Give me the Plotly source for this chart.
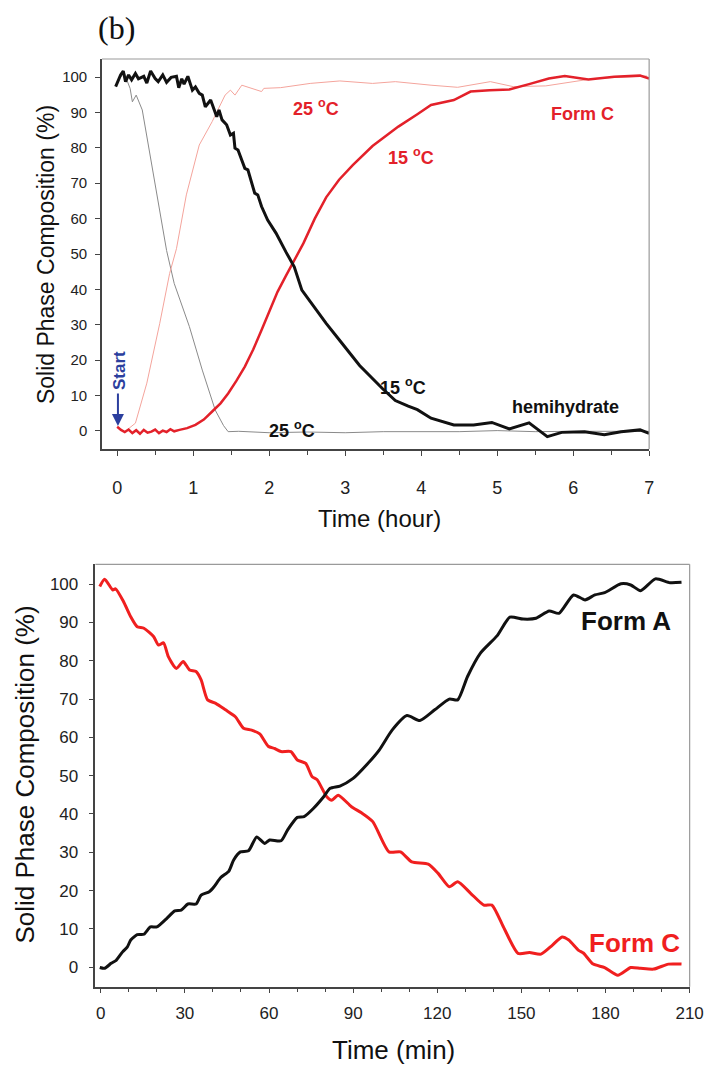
import plotly.graph_objects as go

W, H = 721, 1067

# ---------------- Top panel data (Time in hours, composition %) ----------------
hemi15_t = [-0.02, 0.045, 0.08, 0.11, 0.15, 0.19, 0.24, 0.28, 0.35, 0.39, 0.44, 0.50, 0.54, 0.60, 0.65, 0.71,
            0.78, 0.81, 0.85, 0.88, 0.93, 0.99, 1.03, 1.08, 1.12, 1.16, 1.23, 1.27, 1.31, 1.34, 1.38, 1.44,
            1.49, 1.53, 1.55, 1.59, 1.64, 1.68, 1.72, 1.77, 1.81, 1.85, 1.90, 1.98, 2.09, 2.22, 2.33, 2.43,
            2.60, 2.75, 2.95, 3.19, 3.49, 3.66, 3.83, 3.95, 4.13, 4.43, 4.69, 4.93, 5.16, 5.42, 5.66, 5.85,
            6.15, 6.41, 6.63, 6.88, 7.0]
hemi15_v = [97.3, 100.6, 101.7, 98.7, 100.6, 99.2, 101.0, 99.5, 100.2, 98.3, 101.7, 99.6, 98.7, 100.6, 98.5, 99.9,
            100.2, 97.0, 99.5, 98.0, 100.2, 96.3, 97.2, 95.4, 94.9, 91.6, 93.5, 91.1, 88.8, 90.7, 87.9, 86.5,
            83.6, 84.1, 79.9, 79.4, 76.6, 74.2, 73.8, 70.0, 67.2, 66.7, 63.4, 59.6, 55.9, 50.6, 46.4, 39.8,
            34.8, 30.4, 25.0, 18.5, 12.0, 8.6, 7.0, 6.0, 3.6, 1.7, 1.7, 2.4, 0.6, 2.3, -1.6, -0.4,
            -0.2, -1.1, -0.2, 0.3, -0.7]

formC15_t = [0.0, 0.05, 0.10, 0.15, 0.20, 0.25, 0.30, 0.35, 0.40, 0.45, 0.50, 0.55, 0.60, 0.65, 0.70, 0.75,
             0.82, 0.92, 1.03, 1.14, 1.25, 1.36, 1.46, 1.57, 1.68, 1.79, 1.90, 2.00, 2.11, 2.22, 2.33, 2.45,
             2.60, 2.75, 2.92, 3.10, 3.36, 3.70, 3.95, 4.13, 4.43, 4.65, 4.90, 5.16, 5.42, 5.68, 5.89, 6.20,
             6.54, 6.88, 7.0]
formC15_v = [1.2, 0.3, -0.3, 0.4, -0.6, 0.2, -0.8, 0.3, -0.5, -0.2, 0.4, -0.6, 0.1, -0.3, 0.5, -0.1,
             0.3, 0.8, 1.7, 3.2, 5.5, 7.8, 10.6, 14.2, 18.2, 23.0, 28.5, 33.8, 39.3, 43.8, 48.3, 53.0,
             60.0, 66.0, 71.0, 75.1, 80.5, 86.0, 89.5, 92.1, 93.5, 95.9, 96.3, 96.5, 98.0, 99.6, 100.3, 99.3,
             100.1, 100.4, 99.6]

hemi25_t = [0.05, 0.09, 0.13, 0.17, 0.20, 0.25, 0.33, 0.43, 0.54, 0.65, 0.75, 0.85, 0.95, 1.12, 1.29, 1.40,
            1.46, 1.6, 2.0, 2.5, 3.0, 3.5, 4.0, 4.5, 5.0, 5.5, 6.0, 6.5, 7.0]
hemi25_v = [100.0, 101.5, 99.0, 96.8, 93.0, 94.9, 90.7, 78.0, 63.8, 51.0, 41.7, 35.5, 29.5, 17.2, 5.9, 1.5,
            -0.2, -0.1, -0.5, -0.3, -0.5, -0.2, -0.3, -0.2, 0.1, -0.2, -0.1, 0.0, -0.1]

formC25_t = [0.13, 0.24, 0.39, 0.56, 0.69, 0.78, 0.91, 1.08, 1.25, 1.42, 1.49, 1.55, 1.64, 1.77, 1.90, 1.93,
             2.15, 2.54, 2.93, 3.36, 3.66, 4.13, 4.48, 4.91, 5.21, 5.64, 6.28, 6.97]
formC25_v = [0.3, 2.2, 13.5, 30.4, 44.5, 51.5, 66.7, 80.8, 87.4, 94.9, 96.3, 94.9, 97.7, 96.8, 95.9, 96.8,
             97.0, 98.2, 98.9, 98.2, 98.7, 97.7, 97.1, 98.7, 97.3, 97.5, 99.6, 100.3]

top_xticks = [0, 1, 2, 3, 4, 5, 6, 7]
top_yticks = [0, 10, 20, 30, 40, 50, 60, 70, 80, 90, 100]

# ---------------- Bottom panel data (Time in min, composition %) ----------------
formA_t = [-0.35, 1.4, 3.7, 5.5, 7.8, 9.5, 10.7, 13.0, 15.4, 17.7, 20.0, 23.5, 26.4, 28.7, 31.1, 34.0,
           35.8, 38.7, 40.4, 42.8, 45.7, 47.4, 49.8, 52.7, 55.6, 58.5, 60.2, 64.3, 66.6, 70.1, 72.5, 75.9,
           79.5, 81.8, 85.3, 90.0, 95.0, 99.3, 103.9, 109.2, 113.8, 119.1, 124.3, 127.3, 130.8, 135.4, 141.3,
           145.9, 150.6, 155.2, 159.9, 163.4, 168.6, 172.7, 176.2, 179.7, 185.5, 189.0, 192.5, 197.8, 203.0, 207.1]
formA_v = [-0.1, -0.3, 1.0, 1.8, 4.0, 5.3, 7.1, 8.5, 8.6, 10.5, 10.5, 12.7, 14.7, 14.9, 16.5, 16.5,
           18.8, 19.7, 21.0, 23.4, 25.1, 28.0, 30.1, 30.4, 34.0, 32.3, 33.2, 33.0, 35.8, 39.1, 39.3, 41.5,
           44.5, 46.7, 47.3, 49.3, 53.0, 56.7, 61.9, 65.7, 64.4, 67.2, 70.0, 69.8, 75.9, 82.0, 86.5,
           91.4, 90.9, 91.1, 93.0, 92.4, 97.2, 95.9, 97.2, 97.8, 100.1, 99.8, 98.3, 101.4, 100.4, 100.5]

formC_t = [-0.35, 1.4, 4.3, 5.3, 8.1, 10.7, 13.0, 15.4, 18.9, 20.6, 22.4, 24.1, 27.0, 29.4, 31.7, 34.0,
           35.8, 38.1, 41.0, 44.5, 48.0, 50.9, 53.8, 56.7, 59.7, 62.0, 64.3, 67.8, 70.1, 73.1, 75.4, 77.1,
           80.6, 82.4, 84.7, 89.4, 93.0, 97.0, 102.8, 106.9, 110.9, 116.8, 120.3, 124.3, 127.3, 131.9, 136.6,
           139.5, 143.6, 148.8, 152.9, 157.0, 161.0, 164.5, 166.9, 170.4, 172.1, 175.6, 179.7, 184.4, 189.0,
           192.5, 197.2, 202.4, 207.1]
formC_v = [99.4, 101.3, 98.5, 98.8, 95.5, 91.5, 88.9, 88.5, 86.3, 84.1, 84.7, 81.1, 78.0, 79.8, 77.6, 77.2,
           75.0, 69.8, 68.9, 67.2, 65.4, 62.4, 61.9, 60.9, 57.7, 57.1, 56.3, 56.3, 54.1, 53.2, 49.7, 49.0,
           44.5, 43.6, 44.9, 41.9, 40.3, 38.0, 30.1, 30.1, 27.5, 26.9, 24.5, 21.0, 22.3, 19.3, 16.2,
           16.2, 10.5, 3.6, 3.8, 3.4, 5.7, 7.9, 7.1, 4.4, 3.7, 0.8, -0.1, -2.1, -0.1,
           -0.3, -0.5, 0.8, 0.8]

bot_xticks = [0, 30, 60, 90, 120, 150, 180, 210]
bot_yticks = [0, 10, 20, 30, 40, 50, 60, 70, 80, 90, 100]

# ---------------- Styles ----------------
RED = "#e3212a"
PINK = "#f4a49c"
GREY = "#8a8a8a"
BLACK = "#111111"
BLUE = "#2c3f9e"
AXC = "#444444"
FONT = "Liberation Sans, Arial, sans-serif"


def px_x(p):
    return p / W


def px_y(p):
    return (H - p) / H


fig = go.Figure()

# top panel traces
fig.add_trace(go.Scatter(x=hemi25_t, y=hemi25_v, mode="lines", line=dict(color=GREY, width=1),
                         xaxis="x", yaxis="y", showlegend=False))
fig.add_trace(go.Scatter(x=formC25_t, y=formC25_v, mode="lines", line=dict(color=PINK, width=1),
                         xaxis="x", yaxis="y", showlegend=False))
fig.add_trace(go.Scatter(x=formC15_t, y=formC15_v, mode="lines", line=dict(color=RED, width=2.5),
                         xaxis="x", yaxis="y", showlegend=False))
fig.add_trace(go.Scatter(x=hemi15_t, y=hemi15_v, mode="lines", line=dict(color=BLACK, width=3),
                         xaxis="x", yaxis="y", showlegend=False))

# bottom panel traces
fig.add_trace(go.Scatter(x=formC_t, y=formC_v, mode="lines",
                         line=dict(color="#f01f1f", width=3, shape="spline", smoothing=0.6),
                         xaxis="x2", yaxis="y2", showlegend=False))
fig.add_trace(go.Scatter(x=formA_t, y=formA_v, mode="lines",
                         line=dict(color=BLACK, width=3, shape="spline", smoothing=0.6),
                         xaxis="x2", yaxis="y2", showlegend=False))

tickfont_top_x = dict(family=FONT, size=18, color="#222")
tickfont_top_y = dict(family=FONT, size=15, color="#222")
tickfont_bot = dict(family=FONT, size=17, color="#222")

common = dict(showgrid=False, zeroline=False, showline=True, linecolor=AXC, linewidth=1.5,
              ticks="outside", tickcolor=AXC, ticklen=5, tickwidth=1.2, mirror=False)

fig.update_layout(
    width=W, height=H, margin=dict(l=0, r=0, t=0, b=0),
    paper_bgcolor="white", plot_bgcolor="white",
    font=dict(family=FONT),
    xaxis=dict(domain=[px_x(104), px_x(662)], range=[-0.2, 7], anchor="y",
               tickvals=top_xticks, ticktext=[str(v) for v in top_xticks], tickfont=tickfont_top_x,
               ticklabelstandoff=17,
               minor=dict(tickvals=[0.5, 1.5, 2.5, 3.5, 4.5, 5.5, 6.5], ticks="outside", ticklen=4,
                          tickcolor=AXC, tickwidth=1),
               **common),
    yaxis=dict(domain=[px_y(449), px_y(59)], range=[-5.1, 105.1], anchor="x",
               tickvals=top_yticks, ticktext=[str(v) for v in top_yticks], tickfont=tickfont_top_y,
               ticklabelstandoff=5, **common),
    xaxis2=dict(domain=[px_x(97.3), px_x(703.3)], range=[-1.9, 210], anchor="y2",
                tickvals=bot_xticks, ticktext=[str(v) for v in bot_xticks], tickfont=tickfont_bot,
                ticklabelstandoff=5,
                minor=dict(dtick=10, tick0=0, ticks="outside", ticklen=4, tickcolor=AXC, tickwidth=1),
                **common),
    yaxis2=dict(domain=[px_y(986.7), px_y(564.3)], range=[-5.1, 105.2], anchor="x2",
                tickvals=bot_yticks, ticktext=[str(v) for v in bot_yticks], tickfont=tickfont_bot,
                ticklabelstandoff=7, **common),
)

# light top/right frame lines
for xr, yr in (("x", "y"), ("x2", "y2")):
    fig.add_shape(type="line", xref=f"{xr} domain", yref=f"{yr} domain", x0=0, x1=1, y0=1, y1=1,
                  line=dict(color="#9a9a9a", width=1.2))
    fig.add_shape(type="line", xref=f"{xr} domain", yref=f"{yr} domain", x0=1, x1=1, y0=0, y1=1,
                  line=dict(color="#9a9a9a", width=1.2))

ann = []


def paper_text(text, x, y, size, color="#111", angle=0, family=FONT):
    ann.append(dict(text=text, x=px_x(x), y=px_y(y), xref="paper", yref="paper", showarrow=False,
                    xanchor="center", yanchor="middle", textangle=angle,
                    font=dict(family=family, size=size, color=color)))


def data_text(text, x, y, size, color, xr="x", yr="y", angle=0):
    ann.append(dict(text=text, x=x, y=y, xref=xr, yref=yr, showarrow=False,
                    xanchor="center", yanchor="middle", textangle=angle,
                    font=dict(family=FONT, size=size, color=color)))


# axis titles & panel label
paper_text("(b)", 119, 28, 32, "#111", family="Liberation Serif, Times New Roman, serif")
paper_text("Solid Phase Composition (%)", 47, 255, 23, "#111", angle=-90)
paper_text("Time (hour)", 387, 518, 24, "#111")
paper_text("Solid Phase Composition (%)", 25, 775, 26, "#111", angle=-90)
paper_text("Time (min)", 401, 1050, 26, "#111")

# top panel labels
data_text("<b>25 <sup>o</sup>C</b>", 2.61, 91.5, 18, RED)
data_text("<b>Form C</b>", 6.12, 89.5, 18, RED)
data_text("<b>15 <sup>o</sup>C</b>", 3.87, 77.5, 18, RED)
data_text("<b>15 <sup>o</sup>C</b>", 3.76, 12.5, 18, BLACK)
data_text("<b>hemihydrate</b>", 5.90, 6.8, 18, BLACK)
data_text("<b>25 <sup>o</sup>C</b>", 2.30, 0.3, 18, BLACK)
data_text("<b>Start</b>", 0.04, 17.0, 17, BLUE, angle=-90)
ann.append(dict(text="", x=0.01, y=1.4, ax=0.01, ay=11.0, xref="x", yref="y", axref="x", ayref="y",
                showarrow=True, arrowhead=2, arrowsize=1.2, arrowwidth=2, arrowcolor=BLUE))

# bottom panel labels
data_text("<b>Form A</b>", 187.2, 90.5, 26, BLACK, "x2", "y2")
data_text("<b>Form C</b>", 190.3, 6.2, 26, "#f01f1f", "x2", "y2")

fig.update_layout(annotations=ann)

fig.write_html("out.html")
